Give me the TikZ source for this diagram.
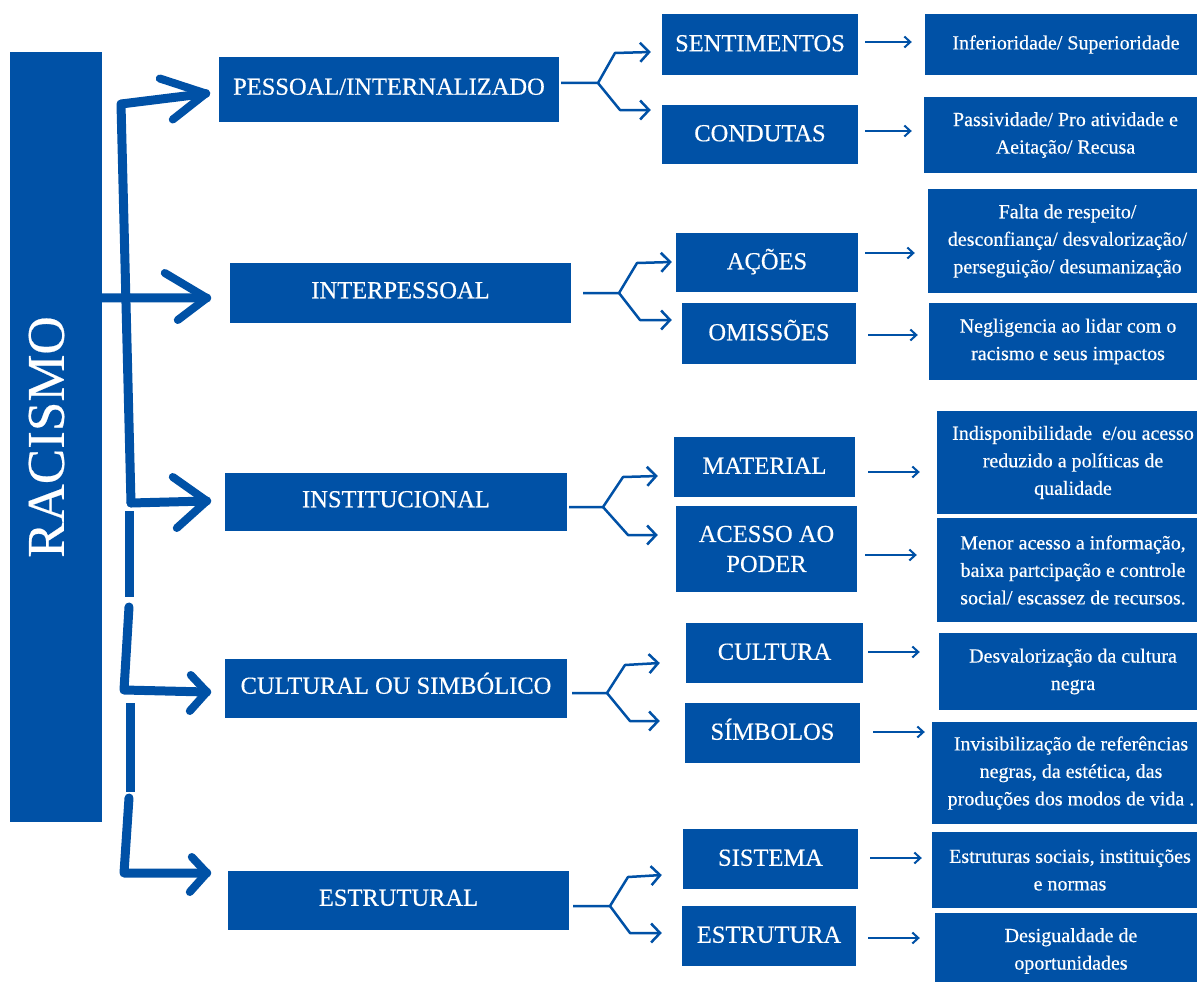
\documentclass[tikz,border=0pt]{standalone}
\usepackage{fontspec}
\setmainfont{Liberation Serif}[FakeBold=0.4]
\usetikzlibrary{arrows.meta,calc}
\definecolor{rblue}{RGB}{0,81,166}
\begin{document}
\begin{tikzpicture}[x=1pt,y=-1pt,
  box/.style={fill=rblue,text=white,inner sep=0pt,align=center},
  lvone/.style={box,font=\fontsize{24.5}{30}\selectfont,text height=16.5pt,text depth=6pt},
  lvtwo/.style={box,font=\fontsize{24.5}{30}\selectfont,text height=16.5pt,text depth=3pt},
  lvtwoml/.style={box,font=\fontsize{24.5}{30}\selectfont},
  lvthree/.style={box,font=\fontsize{20}{27.5}\selectfont},
  trunk/.style={draw=rblue,line width=9pt,line cap=round,line join=round},
  trunkseg/.style={draw=rblue,line width=9pt,line cap=butt},
  chev/.style={draw=rblue,line width=8pt,line cap=round,line join=round},
  fork/.style={draw=rblue,line width=2.5pt,line join=round,-{Straight Barb[length=9pt,width=19pt]}},
  sarrow/.style={draw=rblue,line width=2pt,-{Straight Barb[length=6pt,width=11pt]}}]
\useasboundingbox (0,0) rectangle (1197,982);
\fill[white] (0,0) rectangle (1197,982);

% main box
\node[box,minimum width=92pt,minimum height=770pt,font=\fontsize{53}{60}\selectfont] (rac) at (56,437) {\rotatebox{90}{RACISMO}\hspace*{19pt}};

% level 1
\node[lvone,minimum width=340pt,minimum height=65pt] (pess) at (389,89.5) {PESSOAL/INTERNALIZADO};
\node[lvone,minimum width=341pt,minimum height=60pt] (inter) at (400.5,293) {INTERPESSOAL};
\node[lvone,minimum width=342pt,minimum height=58pt] (inst) at (396,502) {INSTITUCIONAL};
\node[lvone,minimum width=342pt,minimum height=59pt] (cult) at (396,688.5) {CULTURAL OU SIMBÓLICO};
\node[lvone,minimum width=341pt,minimum height=59pt] (estr) at (398.5,900.5) {ESTRUTURAL};

% level 2
\node[lvtwo,minimum width=196pt,minimum height=61pt] (sent) at (760,44.5) {SENTIMENTOS};
\node[lvtwo,minimum width=196pt,minimum height=59pt] (cond) at (760,134.5) {CONDUTAS};
\node[lvtwo,minimum width=182pt,minimum height=59pt] (acoes) at (767,262.5) {AÇÕES};
\node[lvtwo,minimum width=174pt,minimum height=61pt] (omis) at (769,333.5) {OMISSÕES};
\node[lvtwo,minimum width=181pt,minimum height=60pt] (mat) at (764.5,467) {MATERIAL};
\node[lvtwoml,minimum width=181pt,minimum height=86pt] (aces) at (766.5,549) {ACESSO AO\\PODER};
\node[lvtwo,minimum width=177pt,minimum height=60pt] (cultura) at (774.5,653) {CULTURA};
\node[lvtwo,minimum width=175pt,minimum height=60pt] (simb) at (772.5,733) {SÍMBOLOS};
\node[lvtwo,minimum width=175pt,minimum height=60pt] (sist) at (770.5,859) {SISTEMA};
\node[lvtwo,minimum width=174pt,minimum height=60pt] (estrut) at (769,936) {ESTRUTURA};

% level 3
\node[lvthree,minimum width=282pt,minimum height=61pt] (r1) at (1066,44.5) {Inferioridade/ Superioridade};
\node[lvthree,minimum width=283pt,minimum height=76pt] (r2) at (1065.5,135) {Passividade/ Pro atividade e\\Aeitação/ Recusa};
\node[lvthree,minimum width=279pt,minimum height=104pt] (r3) at (1067.5,241) {Falta de respeito/\\desconfiança/ desvalorização/\\perseguição/ desumanização};
\node[lvthree,minimum width=278pt,minimum height=77pt] (r4) at (1068,341.5) {Negligencia ao lidar com o\\racismo e seus impactos};
\node[lvthree,minimum width=272pt,minimum height=103pt] (r5) at (1073,462.5) {Indisponibilidade\ \ e/ou acesso\\reduzido a políticas de\\qualidade};
\node[lvthree,minimum width=272pt,minimum height=104pt] (r6) at (1073,570) {Menor acesso a informação,\\baixa partcipação e controle\\social/ escassez de recursos.};
\node[lvthree,minimum width=268pt,minimum height=77pt] (r7) at (1073,671.5) {Desvalorização da cultura\\negra};
\node[lvthree,minimum width=278pt,minimum height=102pt] (r8) at (1071,773) {Invisibilização de referências\\negras, da estética, das\\produções dos modos de vida .};
\node[lvthree,minimum width=276pt,minimum height=76pt] (r9) at (1070,870) {Estruturas sociais, instituições\\e normas};
\node[lvthree,minimum width=272pt,minimum height=76pt] (r10) at (1071,951) {Desigualdade de\\oportunidades};

% trunk and big arrows
\coordinate (ttop) at (121,104);
\coordinate (tinst) at (131,503);
\draw[trunk] (tinst) -- (ttop) -- ($(pess.west)+(-13,4)$);
\draw[chev] ($(pess.west)+(-59,-11)$) -- ($(pess.west)+(-13,4)$) -- ($(pess.west)+(-46,30)$);

\draw[trunk] ($(rac.north east)+(0,246)$) -- ($(inter.west)+(-23,5)$);
\draw[chev] ($(inter.west)+(-65,-20)$) -- ($(inter.west)+(-23,5)$) -- ($(inter.west)+(-52,27)$);

\draw[trunk] (tinst) -- ($(inst.west)+(-18,-1)$);
\draw[chev] ($(inst.west)+(-52,-25)$) -- ($(inst.west)+(-18,-1)$) -- ($(inst.west)+(-48,26)$);

\coordinate (s2a) at (129,511);
\coordinate (s2b) at (129,597);
\draw[trunkseg] (s2a) -- (s2b);

\coordinate (s3a) at (129,607);
\coordinate (s3c) at (124,690);
\draw[trunk] (s3a) -- (s3c) -- ($(cult.west)+(-18,3.5)$);
\draw[chev] ($(cult.west)+(-34,-13.5)$) -- ($(cult.west)+(-18,3.5)$) -- ($(cult.west)+(-35,22.5)$);

\coordinate (s4a) at (130,703);
\coordinate (s4b) at (130,792);
\draw[trunkseg] (s4a) -- (s4b);

\coordinate (s5a) at (129,798);
\coordinate (s5c) at (124,873);
\draw[trunk] (s5a) -- (s5c) -- ($(estr.west)+(-21,-27.5)$);
\draw[chev] ($(estr.west)+(-36,-43.5)$) -- ($(estr.west)+(-21,-27.5)$) -- ($(estr.west)+(-38,-8.5)$);

% forks
\coordinate (f1) at (598,83);
\draw[fork] ($(pess.east)+(2,-6.5)$) -- (f1) -- (615,53) -- ($(sent.west)+(-11,7.5)$);
\draw[fork] (f1) -- (620,110) -- ($(cond.west)+(-11,-24.5)$);

\coordinate (f2) at (619,293);
\draw[fork] ($(inter.east)+(12,0)$) -- (f2) -- (637,263) -- ($(acoes.west)+(-4,-0.5)$);
\draw[fork] (f2) -- (640,320) -- ($(omis.west)+(-10,-13.5)$);

\coordinate (f3) at (603,507);
\draw[fork] ($(inst.east)+(2,5)$) -- (f3) -- (623,477) -- ($(mat.west)+(-16,9)$);
\draw[fork] (f3) -- (628,535) -- ($(aces.west)+(-18,-14)$);

\coordinate (f4) at (607,693);
\draw[fork] ($(cult.east)+(5,4.5)$) -- (f4) -- (625,665) -- ($(cultura.west)+(-26,10)$);
\draw[fork] (f4) -- (630,721) -- ($(simb.west)+(-25,-12)$);

\coordinate (f5) at (610,906);
\draw[fork] ($(estr.east)+(4,5.5)$) -- (f5) -- (628,877) -- ($(sist.west)+(-21,16)$);
\draw[fork] (f5) -- (630,933) -- ($(estrut.west)+(-20,-3)$);

% small arrows
\draw[sarrow] ($(sent.east)+(7,-2.5)$) -- ($(r1.west)+(-13,-2.5)$);
\draw[sarrow] ($(cond.east)+(7,-3.5)$) -- ($(r2.west)+(-12,-4)$);
\draw[sarrow] ($(acoes.east)+(7,-9.5)$) -- ($(r3.west)+(-13,12)$);
\draw[sarrow] ($(omis.east)+(12,1.5)$) -- ($(r4.west)+(-11,-6.5)$);
\draw[sarrow] ($(mat.east)+(13,5)$) -- ($(r5.west)+(-17,9.5)$);
\draw[sarrow] ($(aces.east)+(8,6)$) -- ($(r6.west)+(-20,-15)$);
\draw[sarrow] ($(cultura.east)+(5,-1)$) -- ($(r7.west)+(-19,-19.5)$);
\draw[sarrow] ($(simb.east)+(13,-1)$) -- ($(r8.west)+(-7,-41)$);
\draw[sarrow] ($(sist.east)+(12,-1)$) -- ($(r9.west)+(-10,-12)$);
\draw[sarrow] ($(estrut.east)+(12,2)$) -- ($(r10.west)+(-15,-13)$);
\end{tikzpicture}
\end{document}
